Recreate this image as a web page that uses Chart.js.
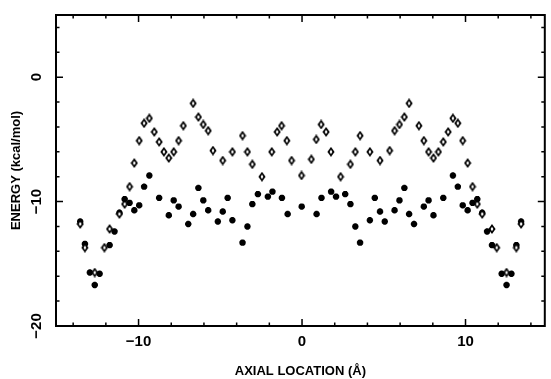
<!DOCTYPE html>
<html>
<head>
<meta charset="utf-8">
<script src="https://cdn.jsdelivr.net/npm/chart.js@4/dist/chart.umd.min.js"></script>
<style>
  html, body { margin: 0; padding: 0; background: #fff; }
  #wrap { width: 551px; height: 379px; }
</style>
</head>
<body>
<div id="wrap"><canvas id="myChart" width="551" height="379"></canvas></div>
<script>
// open diamonds
const diamondX = [-13.57, -13.28, -12.68, -12.09, -11.77, -11.17, -10.85, -10.55, -10.26, -9.96,
  -9.66, -9.34, -9.04, -8.74, -8.45, -8.15, -7.85, -7.55, -7.26, -6.66, -6.34, -6.04, -5.74,
  -5.45, -4.85, -4.26, -3.64, -3.34, -3.04, -2.45, -1.85, -1.52, -1.25, -0.93, -0.64, -0.03,
  0.57, 0.87, 1.17, 1.47, 1.77, 2.36, 2.96, 3.26, 3.55, 4.15, 4.77, 5.36, 5.66, 5.96, 6.26,
  6.55, 7.15, 7.45, 7.74, 8.04, 8.34, 8.64, 8.94, 9.23, 9.53, 9.83, 10.13, 10.43, 10.72, 11.02,
  11.62, 11.91, 12.51, 13.11, 13.40];
const diamondY = [-11.8, -13.7, -15.7, -13.7, -12.2, -11.0, -10.2, -8.8, -6.9, -5.1,
  -3.7, -3.3, -4.4, -5.2, -6.0, -6.5, -6.0, -5.1, -3.9, -2.1, -3.2, -3.8, -4.3,
  -5.9, -6.7, -6.0, -4.7, -6.0, -7.0, -8.0, -6.0, -4.4, -3.9, -5.1, -6.7, -7.9,
  -6.6, -5.0, -3.8, -4.4, -6.0, -8.0, -7.0, -6.0, -4.7, -6.0, -6.7, -5.9, -4.3, -3.8, -3.2,
  -2.1, -3.9, -5.1, -6.0, -6.5, -6.0, -5.2, -4.4, -3.3, -3.7, -5.1, -6.9, -8.8, -10.2, -11.0,
  -12.2, -13.7, -15.7, -13.7, -11.8];

// asterisks
const starX = [-13.57, -13.28, -12.98, -12.68, -12.38, -11.77, -11.47, -11.17, -10.85, -10.55,
  -10.26, -9.96, -9.66, -9.34, -8.74, -8.15, -7.85, -7.55, -6.96, -6.66, -6.34, -6.04, -5.74,
  -5.15, -4.85, -4.55, -4.26, -3.64, -3.34, -3.04, -2.70, -2.09, -1.81, -1.23, -0.88, -0.02,
  0.89, 1.19, 1.78, 2.08, 2.64, 2.96, 3.26, 3.55, 4.15, 4.45, 4.77, 5.06, 5.66, 5.96, 6.26,
  6.55, 6.85, 7.45, 7.74, 8.04, 8.64, 9.23, 9.53, 9.83, 10.13, 10.43, 10.72, 11.02, 11.32,
  11.62, 12.21, 12.51, 12.81, 13.11, 13.40];
const starY = [-11.6, -13.4, -15.7, -16.7, -15.8, -13.5, -12.4, -10.9, -9.8, -10.1,
  -10.7, -10.3, -8.8, -7.9, -9.7, -11.1, -9.9, -10.4, -11.8, -11.0, -8.9, -9.9, -10.7,
  -11.6, -10.8, -9.7, -11.5, -13.3, -12.0, -10.2, -9.4, -9.6, -9.2, -9.7, -11.0, -10.4,
  -11.0, -9.7, -9.2, -9.6, -9.4, -10.2, -12.0, -13.3, -11.5, -9.7, -10.8, -11.6, -10.7, -9.9, -8.9,
  -11.0, -11.8, -10.4, -9.9, -11.1, -9.7, -7.9, -8.8, -10.3, -10.7, -10.1, -9.8, -10.9, -12.4,
  -13.5, -15.8, -16.7, -15.8, -13.5, -11.6];

const xTickValues = [-10, 0, 10];
const yTickValues = [-20, -10, 0];
const xMinorTicks = [-14, -12, -8, -6, -4, -2, 2, 4, 6, 8, 12, 14];
const yMinorTicks = [-18, -16, -14, -12, -8, -6, -4, -2, 2, 4];

const xTitle = 'AXIAL LOCATION (Å)';
const yTitle = 'ENERGY (kcal/mol)';

function fmt(v) {
  return v < 0 ? '\u2212' + Math.abs(v) : String(v);
}

// elongated open diamond: black diamond with a small white hole
const diamond = document.createElement('canvas');
diamond.width = 8;
diamond.height = 10;
(function () {
  const c = diamond.getContext('2d');
  const poly = (pts, col) => {
    c.fillStyle = col;
    c.beginPath();
    c.moveTo(pts[0], pts[1]);
    for (let i = 2; i < pts.length; i += 2) c.lineTo(pts[i], pts[i + 1]);
    c.closePath();
    c.fill();
  };
  poly([4, 0, 7.6, 5, 4, 10, 0.4, 5], '#000');
  poly([4, 2.8, 5.4, 5, 4, 7.2, 2.6, 5], '#fff');
})();

const frameAndTicks = {
  id: 'frameAndTicks',
  afterDraw(chart) {
    const ctx = chart.ctx;
    const a = chart.chartArea;
    const xs = chart.scales.x, ys = chart.scales.y;
    ctx.save();
    ctx.strokeStyle = '#000';
    ctx.lineWidth = 1.5;
    ctx.beginPath();
    const tick = (vals, len) => {
      vals.forEach(v => {
        const px = xs.getPixelForValue(v);
        ctx.moveTo(px, a.bottom); ctx.lineTo(px, a.bottom - len);
        ctx.moveTo(px, a.top); ctx.lineTo(px, a.top + len);
      });
    };
    const tickY = (vals, len) => {
      vals.forEach(v => {
        const py = ys.getPixelForValue(v);
        ctx.moveTo(a.left, py); ctx.lineTo(a.left + len, py);
        ctx.moveTo(a.right, py); ctx.lineTo(a.right - len, py);
      });
    };
    tick(xTickValues, 7);
    tick(xMinorTicks, 3.5);
    tickY(yTickValues, 7);
    tickY(yMinorTicks, 3.5);
    ctx.stroke();

    ctx.lineWidth = 2;
    ctx.strokeRect(a.left, a.top, a.right - a.left, a.bottom - a.top);

    // rotated y tick labels
    ctx.fillStyle = '#000';
    ctx.font = 'bold 15px "Liberation Sans", Arial, sans-serif';
    ctx.textAlign = 'center';
    ctx.textBaseline = 'middle';
    yTickValues.forEach(v => {
      const py = ys.getPixelForValue(v);
      ctx.save();
      ctx.translate(37, py);
      ctx.rotate(-Math.PI / 2);
      ctx.fillText(fmt(v), 0, 0);
      ctx.restore();
    });
    ctx.restore();
  }
};

const ctx = document.getElementById('myChart').getContext('2d');
const chart = new Chart(ctx, {
  type: 'scatter',
  data: {
    datasets: [
      {
        label: 'diamonds',
        data: diamondX.map((x, i) => ({ x: x, y: diamondY[i] })),
        pointStyle: diamond,
        pointRadius: 5
      },
      {
        label: 'stars',
        data: starX.map((x, i) => ({ x: x, y: starY[i] })),
        pointStyle: 'star',
        pointRadius: 3.2,
        borderColor: '#000',
        backgroundColor: '#000',
        borderWidth: 2.2
      }
    ]
  },
  options: {
    responsive: false,
    animation: false,
    layout: { padding: { top: 15, right: 1.5, left: 0, bottom: 0 } },
    plugins: { legend: { display: false }, tooltip: { enabled: false } },
    scales: {
      x: {
        type: 'linear',
        min: -15.05,
        max: 14.85,
        grid: { display: false, drawTicks: false },
        border: { display: false },
        afterBuildTicks: s => { s.ticks = xTickValues.map(v => ({ value: v })); },
        afterFit: s => { s.height = 53; },
        ticks: {
          color: '#000',
          padding: 7,
          maxRotation: 0,
          font: { family: '"Liberation Sans", Arial, sans-serif', size: 15, weight: 'bold' },
          callback: v => fmt(v)
        },
        title: {
          display: true,
          text: xTitle,
          color: '#000',
          padding: { top: 0, bottom: 0 },
          font: { family: '"Liberation Sans", Arial, sans-serif', size: 13, weight: 'bold' }
        }
      },
      y: {
        type: 'linear',
        min: -20,
        max: 5,
        grid: { display: false, drawTicks: false },
        border: { display: false },
        afterBuildTicks: s => { s.ticks = yTickValues.map(v => ({ value: v })); },
        afterFit: s => { s.width = 56; },
        ticks: { display: false },
        title: {
          display: true,
          text: yTitle,
          color: '#000',
          padding: { top: 9, bottom: 0 },
          font: { family: '"Liberation Sans", Arial, sans-serif', size: 13, weight: 'bold' }
        }
      }
    }
  },
  plugins: [frameAndTicks]
});
</script>
</body>
</html>
